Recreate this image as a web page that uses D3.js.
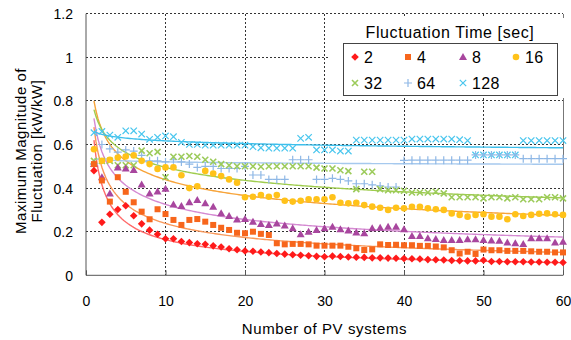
<!DOCTYPE html>
<html><head><meta charset="utf-8">
<script src="https://cdn.jsdelivr.net/npm/d3@7"></script>
<style>
body{margin:0;background:#fff;}
text{font-family:"Liberation Sans",Arial,sans-serif;fill:#000;}
</style></head>
<body><svg id="c" width="571" height="340"></svg>
<script>
const nSystems = [1,2,3,4,5,6,7,8,9,10,11,12,13,14,15,16,17,18,19,20,21,22,23,24,25,26,27,28,29,30,
 31,32,33,34,35,36,37,38,39,40,41,42,43,44,45,46,47,48,49,50,51,52,53,54,55,56,57,58,59,60];
const seriesNames = ["2","4","8","16","32","64","128"];
const s2 = [0.48,0.243,0.28,0.302,0.319,0.273,0.236,0.207,0.188,0.168,
 0.168,0.155,0.150,0.145,0.142,0.135,0.130,0.122,0.117,0.112,
 0.110,0.107,0.104,0.100,0.097,0.094,0.092,0.090,0.087,0.085,
 0.088,0.086,0.084,0.083,0.082,0.080,0.080,0.079,0.078,0.077,
 0.076,0.075,0.072,0.071,0.070,0.068,0.067,0.066,0.066,0.069,
 0.063,0.063,0.062,0.062,0.062,0.061,0.061,0.060,0.060,0.059];
const s4 = [0.51,0.435,0.338,0.45,0.383,0.335,0.292,0.257,0.303,0.281,
 0.254,0.231,0.254,0.258,0.246,0.231,0.218,0.208,0.195,0.193,
 0.20,0.19,0.185,0.147,0.142,0.144,0.144,0.142,0.136,0.136,
 0.136,0.136,0.131,0.124,0.116,0.119,0.142,0.139,0.14,0.138,
 0.138,0.135,0.135,0.132,0.128,0.115,0.10,0.108,0.098,0.118,
 0.115,0.115,0.112,0.112,0.112,0.11,0.108,0.108,0.105,0.105];
const s8 = [0.51,0.45,0.375,0.495,0.49,0.483,0.417,0.375,0.384,0.397,
 0.325,0.318,0.335,0.345,0.33,0.315,0.285,0.272,0.256,0.258,
 0.246,0.235,0.231,0.238,0.228,0.216,0.188,0.20,0.208,0.216,
 0.223,0.211,0.205,0.196,0.193,0.216,0.218,0.223,0.223,0.211,
 0.18,0.18,0.17,0.167,0.162,0.162,0.162,0.165,0.165,0.162,
 0.16,0.158,0.15,0.147,0.144,0.17,0.17,0.17,0.15,0.154];
const s16 = [0.578,0.525,0.53,0.54,0.545,0.55,0.525,0.51,0.488,0.495,
 0.495,0.459,0.40,0.408,0.479,0.467,0.455,0.44,0.425,0.358,
 0.36,0.368,0.36,0.368,0.342,0.338,0.342,0.349,0.349,0.349,
 0.358,0.333,0.33,0.333,0.322,0.315,0.31,0.30,0.31,0.307,
 0.314,0.314,0.307,0.303,0.30,0.284,0.277,0.269,0.277,0.28,
 0.269,0.269,0.257,0.28,0.272,0.277,0.282,0.284,0.28,0.277];
const s32 = [0.525,0.525,0.525,0.505,0.505,0.505,0.572,0.56,0.566,0.45,
 0.544,0.544,0.547,0.544,0.53,0.521,0.51,0.505,0.50,0.50,
 0.50,0.498,0.50,0.50,0.50,0.50,0.50,0.50,0.494,0.49,
 0.49,0.482,0.478,0.395,0.475,0.475,0.395,0.39,0.39,0.388,
 0.38,0.38,0.38,0.383,0.376,0.358,0.358,0.358,0.358,0.353,
 0.358,0.358,0.353,0.358,0.349,0.349,0.349,0.358,0.358,0.353];
const s64 = [0.51,0.60,0.58,0.565,0.575,0.57,0.55,0.525,0.525,0.52,
 0.53,0.52,0.51,0.495,0.50,0.50,0.49,0.49,0.49,0.50,
 0.46,0.46,0.44,0.44,0.44,0.53,0.53,0.53,0.44,0.44,
 0.445,0.44,0.433,0.42,0.42,0.415,0.41,0.405,0.405,0.527,
 0.528,0.528,0.528,0.528,0.528,0.528,0.528,0.528,0.552,0.552,
 0.552,0.552,0.552,0.552,0.535,0.535,0.535,0.535,0.535,0.535];
const s128 = [0.654,0.66,0.643,0.633,0.663,0.663,0.648,0.624,0.633,0.639,
 0.636,0.61,0.60,0.60,0.597,0.597,0.597,0.597,0.597,0.597,
 0.59,0.585,0.583,0.583,0.583,0.583,0.628,0.633,0.575,0.575,
 0.575,0.57,0.57,0.62,0.62,0.62,0.62,0.62,0.62,0.62,
 0.625,0.625,0.625,0.625,0.625,0.625,0.622,0.618,0.552,0.552,
 0.552,0.552,0.552,0.552,0.618,0.618,0.618,0.618,0.618,0.618];
// power-law trend line parameters (y = a * n^-b)
const fitA = [0.62,0.68,0.72,0.80,0.76,0.535,0.66];
const fitB = [0.579,0.456,0.345,0.261,0.186,0.012,0.0295];
const xTicks = [0,10,20,30,40,50,60];
const yTicks = [0,0.2,0.4,0.6,0.8,1,1.2];
const yTickLabels = ["0","0.2","0.4","0.6","0.8","1","1.2"];

const seriesValues = [s2,s4,s8,s16,s32,s64,s128];
const markerColors = ["#FF1A1A","#F7661C","#A8469E","#FFC21A","#9CCB5A","#8FB8E6","#49C6EE"];
const lineColors = ["#FF6A6A","#F9985A","#D58AD2","#F7A43A","#9FCC4E","#A6C9EE","#3DBFEC"];
const markerTypes = ["diamond","square","triangle","circle","xgreen","plus","x"];

const svg = d3.select("#c");
const L=86, R=563, T=13.7, B=275.3;
const x = d3.scaleLinear().domain([0,60]).range([L,R]);
const y = d3.scaleLinear().domain([0,1.2]).range([B,T]);

// gridlines
const g = svg.append("g");
g.selectAll(".hg").data(yTicks.filter(d=>d>0)).enter().append("line")
  .attr("x1",L).attr("x2",R).attr("y1",d=>y(d)).attr("y2",d=>y(d))
  .attr("stroke","#333").attr("stroke-width",1).attr("stroke-dasharray","2,2").attr("shape-rendering","crispEdges");
g.selectAll(".vg").data(xTicks.filter(d=>d>0&&d<60)).enter().append("line")
  .attr("x1",d=>x(d)).attr("x2",d=>x(d)).attr("y1",T).attr("y2",B)
  .attr("stroke","#333").attr("stroke-width",1).attr("stroke-dasharray","2,2").attr("shape-rendering","crispEdges");
// right border
g.append("line").attr("x1",x(60)).attr("x2",x(60)).attr("y1",T).attr("y2",B)
  .attr("stroke","#777").attr("shape-rendering","crispEdges");

// axes
const xAxis = d3.axisBottom(x).tickValues(xTicks).tickSize(0).tickPadding(0);
const gx = svg.append("g").attr("transform",`translate(0,${B})`).call(xAxis);
gx.select(".domain").attr("stroke","#555").attr("d",`M${L},0H${R}`);
gx.selectAll("text").attr("y",31).attr("dy",0).attr("font-size",14).attr("font-family","Liberation Sans, Arial, sans-serif");
gx.selectAll(".tick").append("line").attr("y1",0).attr("y2",-5).attr("stroke","#555");

const yAxis = d3.axisLeft(y).tickValues(yTicks).tickFormat((d,i)=>yTickLabels[i]).tickSize(0).tickPadding(13);
const gy = svg.append("g").attr("transform",`translate(${L},0)`).call(yAxis);
gy.select(".domain").attr("stroke","#555").attr("d",`M0,${T}V${B}`);
gy.selectAll("text").attr("font-size",14).attr("font-family","Liberation Sans, Arial, sans-serif").attr("dy","0.36em");

// titles
svg.append("text").attr("x",(L+R)/2).attr("y",334).attr("text-anchor","middle")
  .attr("font-size",15).attr("letter-spacing",0.6).text("Number of PV systems");
const yt = svg.append("text").attr("transform","translate(0,151) rotate(-90)").attr("text-anchor","middle")
  .attr("font-size",15).attr("letter-spacing",0.5);
yt.append("tspan").attr("x",0).attr("y",26).text("Maximum Magnitude of");
yt.append("tspan").attr("x",0).attr("y",42).text("Fluctuation  [kW/kW]");

// trend lines
const nFine = d3.range(1,60.01,0.25);
seriesValues.forEach((vals,i)=>{
  const line = d3.line().x(n=>x(n)).y(n=>y(fitA[i]*Math.pow(n,-fitB[i])));
  svg.append("path").attr("d",line(nFine)).attr("fill","none")
    .attr("stroke",lineColors[i]).attr("stroke-width",1.4);
});

// markers
function drawMarker(sel, type, color){
  if(type==="diamond"){
    sel.append("path").attr("d","M0,-3.8L3.8,0L0,3.8L-3.8,0Z").attr("fill",color);
  } else if(type==="square"){
    sel.append("rect").attr("x",-3).attr("y",-3).attr("width",6).attr("height",6).attr("fill",color);
  } else if(type==="triangle"){
    sel.append("path").attr("d","M0,-4L4,3L-4,3Z").attr("fill",color);
  } else if(type==="circle"){
    sel.append("circle").attr("r",3.3).attr("fill",color);
  } else if(type==="xgreen"){
    sel.append("path").attr("d","M-3,-3L3,3M3,-3L-3,3").attr("stroke",color).attr("stroke-width",1.6).attr("fill","none");
  } else if(type==="plus"){
    sel.append("path").attr("d","M-4,0H4M0,-4V4").attr("stroke",color).attr("stroke-width",1.2).attr("fill","none");
  } else {
    sel.append("path").attr("d","M-3.2,-3.2L3.2,3.2M3.2,-3.2L-3.2,3.2").attr("stroke",color).attr("stroke-width",1.2).attr("fill","none");
  }
}
const drawOrder = [6,5,4,3,2,1,0];
drawOrder.forEach(i=>{
  const gs = svg.append("g");
  seriesValues[i].forEach((v,k)=>{
    const m = gs.append("g").attr("transform",`translate(${x(nSystems[k])},${y(v)})`);
    drawMarker(m, markerTypes[i], markerColors[i]);
  });
});

// legend
const lg = svg.append("g");
lg.append("rect").attr("x",330).attr("y",18).attr("width",240).attr("height",80).attr("fill","#fff");
lg.append("text").attr("x",450).attr("y",38).attr("text-anchor","middle").attr("font-size",16)
  .attr("letter-spacing",0.6).text("Fluctuation Time [sec]");
lg.append("rect").attr("x",343.5).attr("y",43.5).attr("width",214).attr("height",52)
  .attr("fill","#fff").attr("stroke","#444").attr("stroke-width",1);
const legX = [355,408,463,516];
const legY = [57,83];
seriesNames.forEach((name,i)=>{
  const cx = legX[i%4], cy = legY[Math.floor(i/4)];
  const m = lg.append("g").attr("transform",`translate(${cx},${cy})`);
  drawMarker(m, markerTypes[i], markerColors[i]);
  lg.append("text").attr("x",cx+9).attr("y",cy+5.5).attr("font-size",16).attr("letter-spacing",0.4).text(name);
});
</script></body></html>
